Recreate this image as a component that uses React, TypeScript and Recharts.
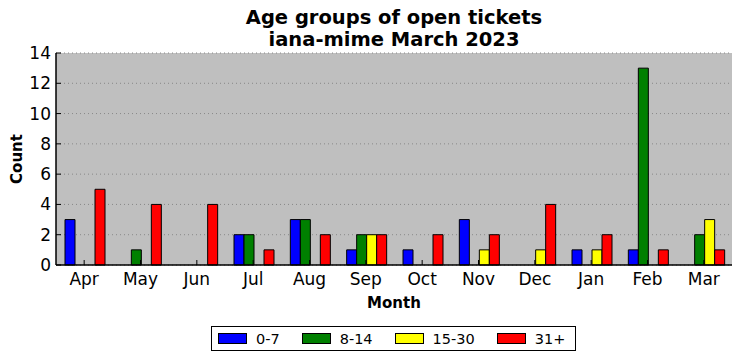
import { BarChart, Bar, XAxis, YAxis, CartesianGrid } from "recharts";

const months = ["Apr", "May", "Jun", "Jul", "Aug", "Sep", "Oct", "Nov", "Dec", "Jan", "Feb", "Mar"];
const age0to7 = [3, 0, 0, 2, 3, 1, 1, 3, 0, 1, 1, 0];
const age8to14 = [0, 1, 0, 2, 3, 2, 0, 0, 0, 0, 13, 2];
const age15to30 = [0, 0, 0, 0, 0, 2, 0, 1, 1, 1, 0, 3];
const age31plus = [5, 4, 4, 1, 2, 2, 2, 2, 4, 2, 1, 1];
const yTicks = [0, 2, 4, 6, 8, 10, 12, 14];

const series = [
    { key: "a", name: "0-7", color: "#0000ff" },
    { key: "b", name: "8-14", color: "#008000" },
    { key: "c", name: "15-30", color: "#ffff00" },
    { key: "d", name: "31+", color: "#ff0000" },
];

const data = months.map((m, i) => ({
    month: m,
    a: age0to7[i],
    b: age8to14[i],
    c: age15to30[i],
    d: age31plus[i],
}));

const FONT = "'DejaVu Sans', sans-serif";

export default function App() {
    return (
        <div style={{ position: "fixed", left: 0, top: 0, width: 741, height: 361, background: "#fff", fontFamily: FONT }}>
            <div style={{ position: "absolute", left: 56, width: 676, top: 7, textAlign: "center", fontWeight: "bold", fontSize: 19.5, lineHeight: "22px" }}>
                Age groups of open tickets
                <br />
                iana-mime March 2023
            </div>
            <div
                style={{
                    position: "absolute",
                    left: 17,
                    top: 159,
                    transform: "translate(-50%, -50%) rotate(-90deg)",
                    fontWeight: "bold",
                    fontSize: 15,
                }}
            >
                Count
            </div>
            <div style={{ position: "absolute", left: 56, width: 676, top: 294, textAlign: "center", fontWeight: "bold", fontSize: 15 }}>
                Month
            </div>
            {/* legend box under the plot */}
            <div
                style={{
                    position: "absolute",
                    left: 211,
                    top: 326,
                    width: 363,
                    height: 23,
                    border: "1px solid #000",
                    display: "flex",
                    alignItems: "center",
                    fontSize: 14.5,
                    whiteSpace: "nowrap",
                    boxSizing: "content-box",
                }}
            >
                {series.map((s, i) => (
                    <div key={s.key} style={{ display: "flex", alignItems: "center", flexShrink: 0, marginLeft: i === 0 ? 6 : 22 }}>
                        <span style={{ width: 27, height: 9, background: s.color, border: "1px solid #000", display: "inline-block", flexShrink: 0 }} />
                        <span style={{ marginLeft: 9 }}>{s.name}</span>
                    </div>
                ))}
            </div>
            <BarChart
                width={741}
                height={361}
                data={data}
                margin={{ top: 53, right: 9, left: 0, bottom: 66 }}
                barCategoryGap={9}
                barGap={0}
                style={{ position: "absolute", left: 0, top: 0 }}
            >
                <CartesianGrid vertical={false} fill="#bfbfbf" stroke="#888" strokeDasharray="1 3" />
                <XAxis
                    dataKey="month"
                    height={30}
                    tickSize={-5}
                    tickMargin={13}
                    axisLine={{ stroke: "#000", strokeWidth: 1.5 }}
                    tickLine={{ stroke: "#000" }}
                    tick={{ fill: "#000", fontSize: 17, fontFamily: FONT }}
                />
                <XAxis
                    xAxisId="top"
                    dataKey="month"
                    orientation="top"
                    height={0}
                    tickSize={-5}
                    tickFormatter={() => ""}
                    axisLine={{ stroke: "#000", strokeWidth: 1.5 }}
                    tickLine={{ stroke: "#000" }}
                />
                <YAxis
                    width={56}
                    domain={[0, 14]}
                    ticks={yTicks}
                    interval={0}
                    tickSize={-5}
                    tickMargin={10}
                    axisLine={{ stroke: "#000", strokeWidth: 1.5 }}
                    tickLine={{ stroke: "#000" }}
                    tick={{ fill: "#000", fontSize: 17, fontFamily: FONT }}
                />
                <YAxis
                    yAxisId="right"
                    orientation="right"
                    width={0}
                    domain={[0, 14]}
                    ticks={yTicks}
                    interval={0}
                    tickSize={-5}
                    tickFormatter={() => ""}
                    axisLine={{ stroke: "#000", strokeWidth: 1.5 }}
                    tickLine={{ stroke: "#000" }}
                />
                {series.map((s) => (
                    <Bar
                        key={s.key}
                        dataKey={s.key}
                        name={s.name}
                        fill={s.color}
                        stroke="#000"
                        strokeWidth={1}
                        isAnimationActive={false}
                    />
                ))}
            </BarChart>
        </div>
    );
}
